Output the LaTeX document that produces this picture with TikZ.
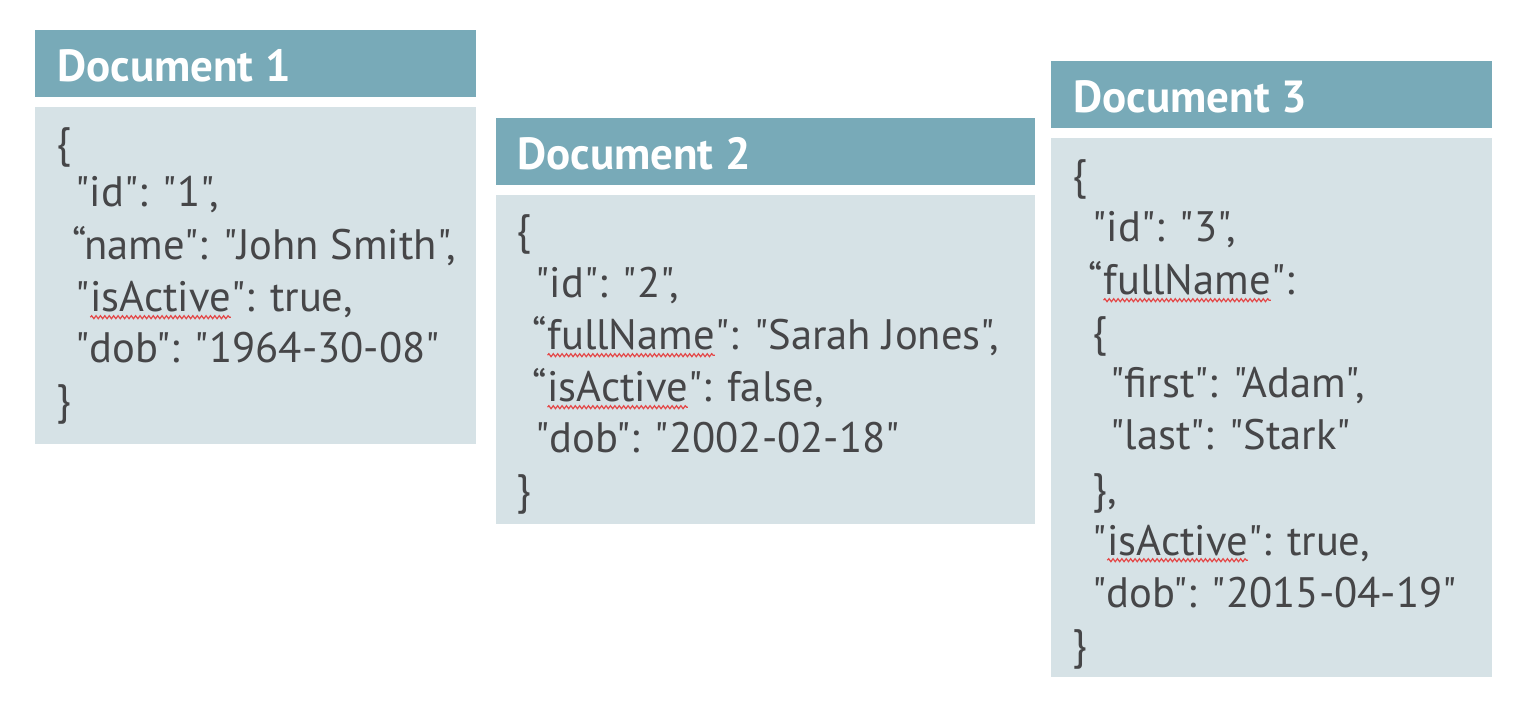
\documentclass[tikz,border=0pt]{standalone}
\usepackage{fontspec}
\setmainfont{PT Sans}[Ligatures=TeXOff]
\usetikzlibrary{decorations.pathmorphing}
\definecolor{hdr}{RGB}{120,170,184}
\definecolor{bdy}{RGB}{214,226,230}
\definecolor{txt}{RGB}{70,70,72}
\definecolor{spellred}{RGB}{228,72,72}
\newcommand\spell[1]{\tikz[baseline=(sw.base)]{\node[inner sep=0pt,outer sep=0pt,anchor=base,text=txt](sw){#1};\draw[spellred,line width=0.6pt,decorate,decoration={snake,amplitude=0.75pt,segment length=2.2pt}] ([yshift=-2.6pt]sw.base west) -- ([yshift=-2.6pt]sw.base east);}}
\tikzset{
  hdrbox/.style={fill=hdr},
  bdybox/.style={fill=bdy},
  title/.style={anchor=base west,inner sep=0pt,text=white,font=\fontsize{22.5}{27}\selectfont\bfseries},
  code/.style={anchor=base west,inner sep=0pt,text=txt,font=\fontsize{21.3}{26}\selectfont}
}
\begin{document}
\begin{tikzpicture}[x=0.5pt,y=-0.5pt]
\useasboundingbox (0,0) rectangle (1530,710);
\fill[white] (0,0) rectangle (1530,710);
% Document 1
\fill[hdrbox] (35,30) rectangle (476,97);
\fill[bdybox] (35,107) rectangle (476,444);
\node[title] (t1) at (57,82) {Document 1};
\node[code] (a1) at (56,158) {\{};
\node[code] (a2) at (75,207) {"id": "1",};
\node[code] (a3) at (72,260) {“name": "John Smith",};
\node[code] (a4) at (75,312) {"\spell{isActive}": true,};
\node[code] (a5) at (75,363) {"dob": "1964-30-08"};
\node[code] (a6) at (56,415) {\}};
% Document 2
\fill[hdrbox] (496,118) rectangle (1035,185);
\fill[bdybox] (496,195) rectangle (1035,524);
\node[title] (t2) at (517,170) {Document 2};
\node[code] (b1) at (516,245) {\{};
\node[code] (b2) at (535,298) {"id": "2",};
\node[code] (b3) at (532,350) {“\spell{fullName}": "Sarah Jones",};
\node[code] (b4) at (532,402) {“\spell{isActive}": false,};
\node[code] (b5) at (535,453) {"dob": "2002-02-18"};
\node[code] (b6) at (516,505) {\}};
% Document 3
\fill[hdrbox] (1051,61) rectangle (1492,128);
\fill[bdybox] (1051,138) rectangle (1492,677);
\node[title] (t3) at (1073,113) {Document 3};
\node[code] (c1) at (1072,190) {\{};
\node[code] (c2) at (1092,242) {"id": "3",};
\node[code] (c3) at (1088,295) {“\spell{fullName}":};
\node[code] (c4) at (1092,347) {\{};
\node[code] (c5) at (1110,398) {"first": "Adam",};
\node[code] (c6) at (1110,450) {"last": "Stark"};
\node[code] (c7) at (1092,503) {\},};
\node[code] (c8) at (1092,555) {"\spell{isActive}": true,};
\node[code] (c9) at (1092,607) {"dob": "2015-04-19"};
\node[code] (c10) at (1072,659) {\}};
\end{tikzpicture}
\end{document}
